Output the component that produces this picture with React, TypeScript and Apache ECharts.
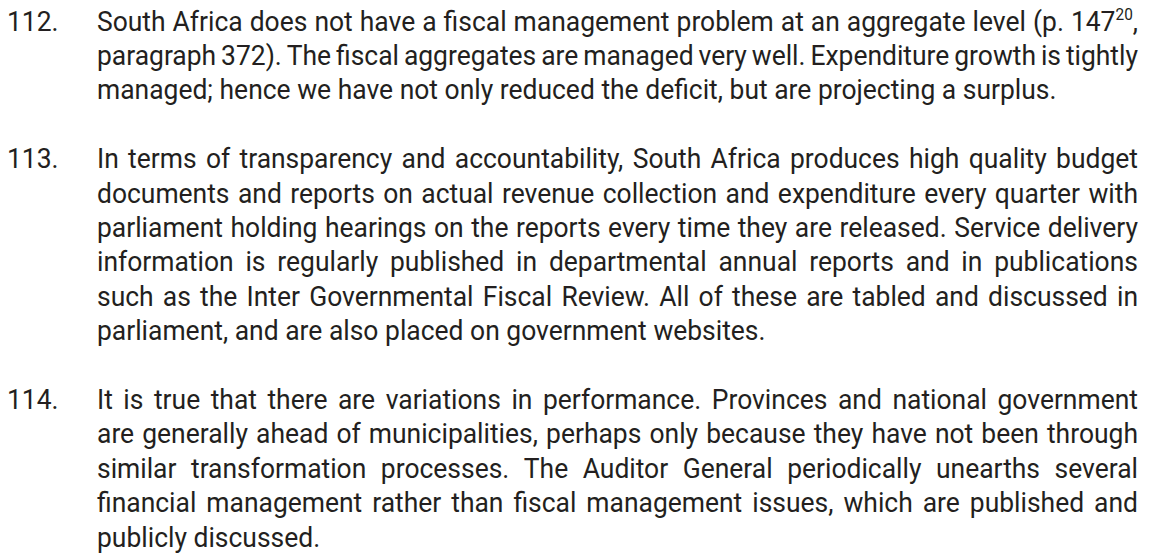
import { useEffect, useRef } from "react";
import * as echarts from "echarts";

const paragraphNumbers = ["112.", "113.", "114."];

const paragraph112Lines = [
  "South Africa does not have a fiscal management problem at an aggregate level (p. 147^{20},",
  "paragraph 372). The fiscal aggregates are managed very well. Expenditure growth is tightly",
  "managed; hence we have not only reduced the deficit, but are projecting a surplus.",
];

const paragraph113Lines = [
  "In terms of transparency and accountability, South Africa produces high quality budget",
  "documents and reports on actual revenue collection and expenditure every quarter with",
  "parliament holding hearings on the reports every time they are released. Service delivery",
  "information is regularly published in departmental annual reports and in publications",
  "such as the Inter Governmental Fiscal Review. All of these are tabled and discussed in",
  "parliament, and are also placed on government websites.",
];

const paragraph114Lines = [
  "It is true that there are variations in performance. Provinces and national government",
  "are generally ahead of municipalities, perhaps only because they have not been through",
  "similar transformation processes. The Auditor General periodically unearths several",
  "financial management rather than fiscal management issues, which are published and",
  "publicly discussed.",
];

const paragraphs = [paragraph112Lines, paragraph113Lines, paragraph114Lines];

const FONT_FAMILY = "Roboto";
const FONT_SIZE = 27.5;
const SCALE_X = 0.962;
const SUP_SIZE = 16;
const TEXT_COLOR = "#231f20";
const NUMBER_X = 7;
const TEXT_LEFT = 97;
const TEXT_RIGHT = 1138;
const FIRST_Y = 21.5;
const LINE_GAP = 34.4;

type Seg = { text: string; sup: boolean };

function splitWord(word: string): Seg[] {
  const segs: Seg[] = [];
  const re = /\^\{([^}]*)\}/g;
  let last = 0;
  let m: RegExpExecArray | null;
  while ((m = re.exec(word)) !== null) {
    if (m.index > last) segs.push({ text: word.slice(last, m.index), sup: false });
    segs.push({ text: m[1], sup: true });
    last = m.index + m[0].length;
  }
  if (last < word.length) segs.push({ text: word.slice(last), sup: false });
  return segs;
}

function buildElements() {
  const canvas = document.createElement("canvas");
  const ctx = canvas.getContext("2d")!;
  const measure = (t: string, size: number) => {
    ctx.font = `${size}px ${FONT_FAMILY}`;
    return ctx.measureText(t).width * SCALE_X;
  };
  const spaceW = measure(" ", FONT_SIZE);
  const textEl = (text: string, x: number, y: number, size: number) => ({
    type: "text",
    x,
    y,
    scaleX: SCALE_X,
    silent: true,
    style: {
      text,
      fontFamily: FONT_FAMILY,
      fontSize: size,
      fill: TEXT_COLOR,
      verticalAlign: "middle",
    },
  });
  const elements: any[] = [];
  let lineIndex = 0;
  paragraphs.forEach((lines, pi) => {
    const y0 = FIRST_Y + lineIndex * LINE_GAP;
    elements.push(textEl(paragraphNumbers[pi], NUMBER_X, y0, FONT_SIZE));
    lines.forEach((line, li) => {
      const y = FIRST_Y + lineIndex * LINE_GAP;
      const words = line.split(" ").map(splitWord);
      const widths = words.map((segs) =>
        segs.reduce((s, g) => s + measure(g.text, g.sup ? SUP_SIZE : FONT_SIZE), 0)
      );
      const total = widths.reduce((a, b) => a + b, 0);
      const isLast = li === lines.length - 1;
      const gap =
        !isLast && words.length > 1
          ? (TEXT_RIGHT - TEXT_LEFT - total) / (words.length - 1)
          : spaceW;
      let x = TEXT_LEFT;
      words.forEach((segs, wi) => {
        let sx = x;
        segs.forEach((g) => {
          const size = g.sup ? SUP_SIZE : FONT_SIZE;
          elements.push(textEl(g.text, sx, g.sup ? y - 7 : y, size));
          sx += measure(g.text, size);
        });
        x += widths[wi] + gap;
      });
      lineIndex += 1;
    });
    lineIndex += 1;
  });
  return elements;
}

export default function App() {
  const ref = useRef<HTMLDivElement>(null);
  useEffect(() => {
    document.body.style.margin = "0";
    const chart = echarts.init(ref.current!, null, { renderer: "svg" });
    chart.setOption({
      animation: false,
      backgroundColor: "#ffffff",
      graphic: { elements: buildElements() },
    });
    return () => chart.dispose();
  }, []);
  return <div ref={ref} style={{ width: 1155, height: 555 }} />;
}
